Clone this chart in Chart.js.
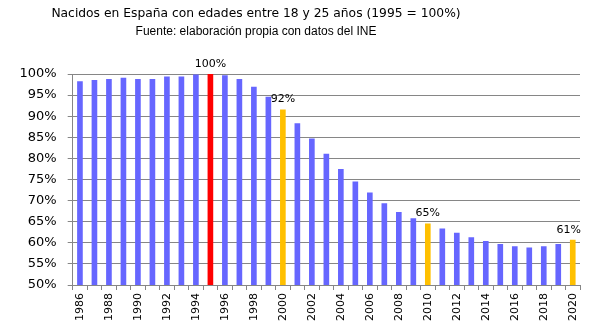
<!DOCTYPE html>
<html>
<head>
<meta charset="utf-8">
<script src="https://cdn.jsdelivr.net/npm/chart.js@4"></script>
<style>
body { margin: 0; background: #fff; }
#wrap { width: 589px; height: 336px; }
</style>
</head>
<body>
<div id="wrap"><canvas id="myChart"></canvas></div>
<script>
const years = ['1986','1987','1988','1989','1990','1991','1992','1993','1994','1995',
  '1996','1997','1998','1999','2000','2001','2002','2003','2004','2005',
  '2006','2007','2008','2009','2010','2011','2012','2013','2014','2015',
  '2016','2017','2018','2019','2020'];
const values = [98.3, 98.6, 98.8, 99.1, 98.8, 98.8, 99.4, 99.4, 99.9, 100,
  99.7, 98.8, 97.0, 94.6, 91.6, 88.3, 84.7, 81.1, 77.5, 74.5,
  71.9, 69.4, 67.3, 65.8, 64.6, 63.4, 62.4, 61.3, 60.4, 59.7,
  59.2, 58.9, 59.2, 59.7, 60.7];
const baseYear = '1995';
const markedYears = ['2000', '2010', '2020'];
const titleText = 'Nacidos en España con edades entre 18 y 25 años (1995 = 100%)';
const subtitleText = 'Fuente: elaboración propia con datos del INE';

const colors = years.map(y => y === baseYear ? '#FF0000' : (markedYears.includes(y) ? '#FFC000' : '#6666FF'));

// titulo y subtitulo centrados sobre el grafico
const titles = {
  id: 'titles',
  afterDraw(chart) {
    const c = chart.ctx;
    c.save();
    c.fillStyle = '#000';
    c.textAlign = 'center';
    c.textBaseline = 'middle';
    c.font = '12.3px "DejaVu Sans"';
    c.fillText(titleText, 256, 14);
    c.font = '12px "Liberation Sans"';
    c.fillText(subtitleText, 256, 32);
    c.restore();
  }
};

// etiquetas de valor en los años marcados
const valueLabels = {
  id: 'valueLabels',
  afterDatasetsDraw(chart) {
    const c = chart.ctx;
    const meta = chart.getDatasetMeta(0);
    c.save();
    c.fillStyle = '#000';
    c.font = '11px "DejaVu Sans"';
    c.textAlign = 'center';
    c.textBaseline = 'middle';
    meta.data.forEach((bar, i) => {
      if (years[i] !== baseYear && !markedYears.includes(years[i])) return;
      const txt = Math.round(values[i]) + '%';
      const w = c.measureText(txt).width;
      const x = Math.min(bar.x, chart.chartArea.right + 1 - w / 2);
      c.fillText(txt, x, bar.y - 10);
    });
    c.restore();
  }
};

new Chart(document.querySelector('#myChart'), {
  type: 'bar',
  data: {
    labels: years,
    datasets: [{
      data: values,
      backgroundColor: colors,
      borderWidth: 0,
      barPercentage: 0.39,
      categoryPercentage: 1
    }]
  },
  options: {
    responsive: true,
    maintainAspectRatio: false,
    animation: false,
    layout: { padding: { left: 18, right: 3, top: 74, bottom: 0 } },
    plugins: { legend: { display: false }, tooltip: { enabled: false } },
    scales: {
      x: {
        afterFit: s => { s.height = 51; },
        grid: { display: true, drawOnChartArea: false, drawTicks: true, tickLength: 5, color: '#868686', offset: true },
        border: { display: true, color: '#868686' },
        ticks: {
          autoSkip: false, minRotation: 90, maxRotation: 90, padding: 3,
          color: '#000', font: { family: 'DejaVu Sans', size: 11 },
          callback: (v, i) => (i % 2 === 0 ? years[i] : '')
        }
      },
      y: {
        min: 50, max: 100,
        afterFit: s => { s.width = 54.7; },
        grid: { color: '#868686', tickLength: 5 },
        border: { display: true, color: '#868686' },
        ticks: {
          stepSize: 5, padding: 11, color: '#000',
          font: { family: 'DejaVu Sans', size: 13 },
          callback: v => v + '%'
        }
      }
    }
  },
  plugins: [titles, valueLabels]
});
</script>
</body>
</html>
